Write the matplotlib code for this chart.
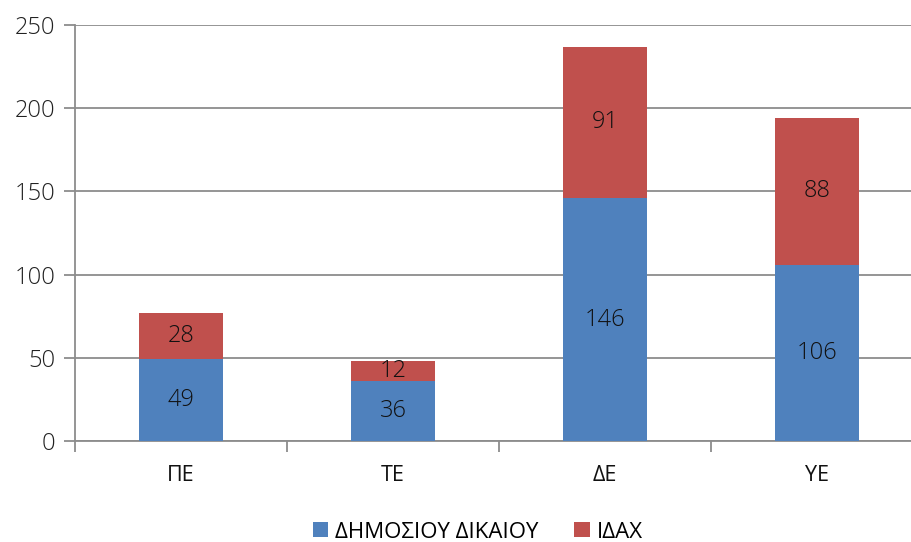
import matplotlib
matplotlib.use("Agg")
import matplotlib.pyplot as plt
import numpy as np

# categories and stacked series
categories = ["ΠΕ", "ΤΕ", "ΔΕ", "ΥΕ"]
dimosiou = [49, 36, 146, 106]
idax = [28, 12, 91, 88]
series_names = ["ΔΗΜΟΣΙΟΥ ΔΙΚΑΙΟΥ", "ΙΔΑΧ"]
yticks = [0, 50, 100, 150, 200, 250]

blue = "#4F81BD"
red = "#C0504D"
grid_col = "#8C8C8C"

plt.rcParams["font.family"] = ["Open Sans", "DejaVu Sans"]

fig = plt.figure(figsize=(9.11, 5.42), dpi=100)
W, H = 911, 542
ax = fig.add_axes([75 / W, 101 / H, 848 / W, 416 / H])

x = np.arange(len(categories))
b1 = ax.bar(x, dimosiou, width=0.4, color=blue, label=series_names[0], zorder=3)
b2 = ax.bar(x, idax, width=0.4, bottom=dimosiou, color=red, label=series_names[1], zorder=3)

for rect, v in zip(b1, dimosiou):
    ax.text(rect.get_x() + rect.get_width() / 2, rect.get_y() + v / 2, str(v),
            ha="center", va="center", fontsize=17, fontweight="light",
            color="#111111", zorder=4)
for rect, v in zip(b2, idax):
    ax.text(rect.get_x() + rect.get_width() / 2, rect.get_y() + v / 2, str(v),
            ha="center", va="center", fontsize=17, fontweight="light",
            color="#111111", zorder=4)

ax.set_xlim(-0.5, 3.5)
ax.set_ylim(0, 250)
ax.set_yticks(yticks)
ax.set_yticklabels([str(t) for t in yticks], fontsize=17, fontweight="light",
                   color="#222222")
ax.yaxis.grid(True, color=grid_col, linewidth=1.3, zorder=0)

# category labels centred, tick marks between categories
ax.set_xticks(np.arange(-0.5, 4.0, 1.0))
ax.set_xticklabels([])
ax.set_xticks(x, minor=True)
ax.set_xticklabels(categories, minor=True, fontsize=15.5, color="#111111")
ax.tick_params(axis="x", which="minor", length=0, pad=17)
ax.tick_params(axis="x", which="major", length=8, width=1.3, color=grid_col)
ax.tick_params(axis="y", length=8, width=1.3, color=grid_col, pad=6)

for s in ["top", "right"]:
    ax.spines[s].set_visible(False)
for s in ["left", "bottom"]:
    ax.spines[s].set_color(grid_col)
    ax.spines[s].set_linewidth(1.3)

fig.legend(handles=[b1, b2], labels=series_names, loc="center",
           bbox_to_anchor=(478 / W, 1 - 532 / H), ncol=2, frameon=False,
           fontsize=16, handlelength=0.68, handleheight=0.68,
           handletextpad=0.35, columnspacing=1.6)

fig.savefig("out.png", dpi=100)
